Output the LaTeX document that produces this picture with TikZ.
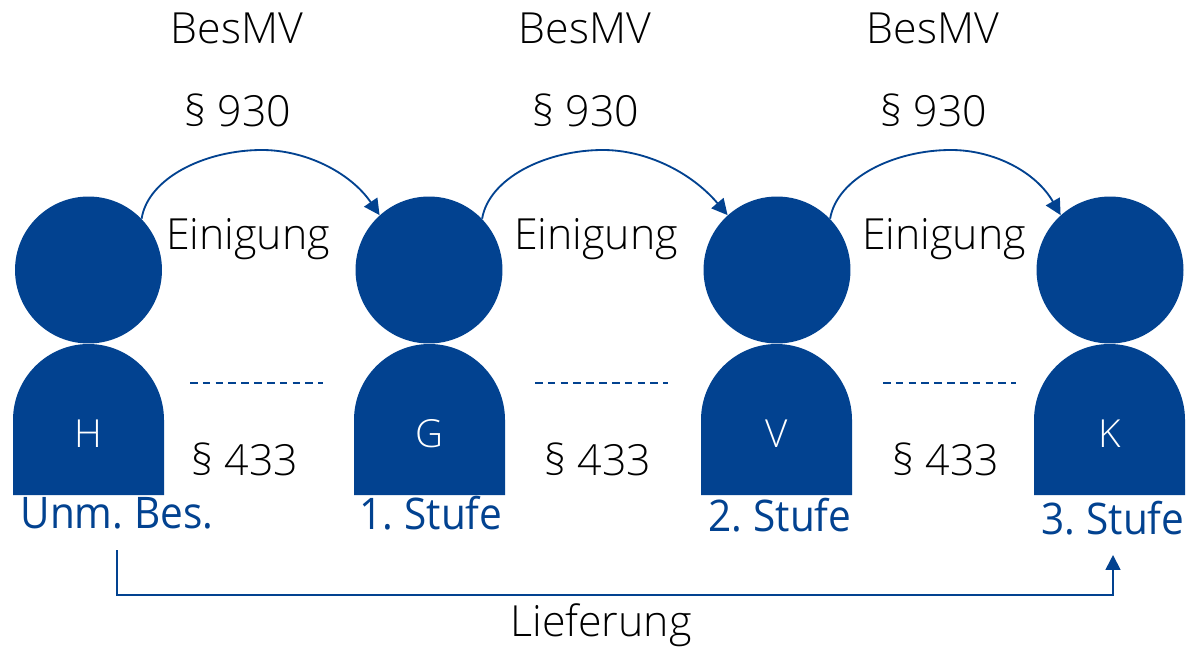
\documentclass[tikz,border=0pt]{standalone}
\usepackage{fontspec}
\setmainfont{Open Sans Light}
\newfontfamily\lvlfont[FakeStretch=0.93,WordSpace=0.7]{Open Sans}
\usetikzlibrary{arrows.meta}
\definecolor{dblue}{HTML}{024290}
\tikzset{
  x=0.02cm,y=-0.02cm,
  headc/.style={circle,fill=dblue,minimum size=2.94cm,inner sep=0pt,draw=none},
  txt/.style={font=\fontsize{24.4}{28}\selectfont,text=black,inner sep=0pt},
  bodytxt/.style={font=\fontsize{22}{25}\selectfont,text=white,inner sep=0pt},
  lvl/.style={font=\lvlfont\fontsize{24.8}{28}\selectfont,text=dblue,inner sep=0pt},
  curvearrow/.style={draw=dblue,line width=1.05pt,-{Triangle[length=9pt,width=9pt]}},
  dashline/.style={draw=dblue,line width=0.6pt,dash pattern=on 4.3pt off 3pt},
  lief/.style={draw=dblue,line width=1pt,-{Triangle[length=8.5pt,width=8.5pt]}}
}
\begin{document}
\begin{tikzpicture}
\useasboundingbox (0,0) rectangle (1196,648);
% heads
\node[headc] (hH) at (88.5,270) {};
\node[headc] (hG) at (429,270) {};
\node[headc] (hV) at (777,270) {};
\node[headc] (hK) at (1110,270) {};
% bodies
\fill[dblue] (13,495) -- (13,420) .. controls (13,378) and (47,344) .. (88.5,344) .. controls (130,344) and (164,378) .. (164,420) -- (164,495) -- cycle;
\fill[dblue] (354,495) -- (354,420) .. controls (354,378) and (388,344) .. (429.5,344) .. controls (471,344) and (505,378) .. (505,420) -- (505,495) -- cycle;
\fill[dblue] (701,495) -- (701,420) .. controls (701,378) and (735,344) .. (776.5,344) .. controls (818,344) and (852,378) .. (852,420) -- (852,495) -- cycle;
\fill[dblue] (1034,495) -- (1034,420) .. controls (1034,378) and (1068,344) .. (1109.5,344) .. controls (1151,344) and (1185,378) .. (1185,420) -- (1185,495) -- cycle;
\node[bodytxt] (bH) at (88,434) {H};
\node[bodytxt] (bG) at (429,434) {G};
\node[bodytxt] (bV) at (777,434) {V};
\node[bodytxt] (bK) at (1110,434) {K};
% top labels
\foreach \n/\x in {a/237,b/585,c/933}{
  \node[txt] (bes\n) at (\x,28) {BesMV};
  \node[txt] (par\n) at ({\x+1},110) {§ 930};
  \node[txt] (ein\n) at ({\x+11},239) {Einigung};
}
\foreach \n/\x in {a/245,b/598,c/946}{
  \node[txt] (k\n) at (\x,459) {§ 433};
}
% arcs
\coordinate (pa) at (262,150);
\coordinate (pb) at (603,150);
\coordinate (pc) at (951,150);
\draw[curvearrow] (hH.44) .. controls (148,178) and (205,150) .. (pa) .. controls (305,150) and (350,172) .. (hG.132);
\draw[curvearrow] (hG.44) .. controls (489,178) and (546,150) .. (pb) .. controls (646,150) and (691,172) .. (hV.132);
\draw[curvearrow] (hV.44) .. controls (837,178) and (894,150) .. (pc) .. controls (994,150) and (1036,172) .. (hK.132);
% dashed
\coordinate (d1a) at (190,383); \coordinate (d1b) at (323,383);
\coordinate (d2a) at (535,383); \coordinate (d2b) at (668,383);
\coordinate (d3a) at (883,383); \coordinate (d3b) at (1016,383);
\draw[dashline] (d1a) -- (d1b);
\draw[dashline] (d2a) -- (d2b);
\draw[dashline] (d3a) -- (d3b);
% level labels
\node[lvl] (l0) at (117,513) {Unm. Bes.};
\node[lvl] (l1) at (431,513) {1. Stufe};
\node[lvl] (l2) at (780,515) {2. Stufe};
\node[lvl] (l3) at (1113,518) {3. Stufe};
% delivery
\coordinate (ls) at (117,550);
\coordinate (le) at (1113,555);
\draw[lief] (ls) -- (117,595) -- (1113,595) -- (le);
\node[txt] (lief) at (601,625) {Lieferung};
\end{tikzpicture}
\end{document}
